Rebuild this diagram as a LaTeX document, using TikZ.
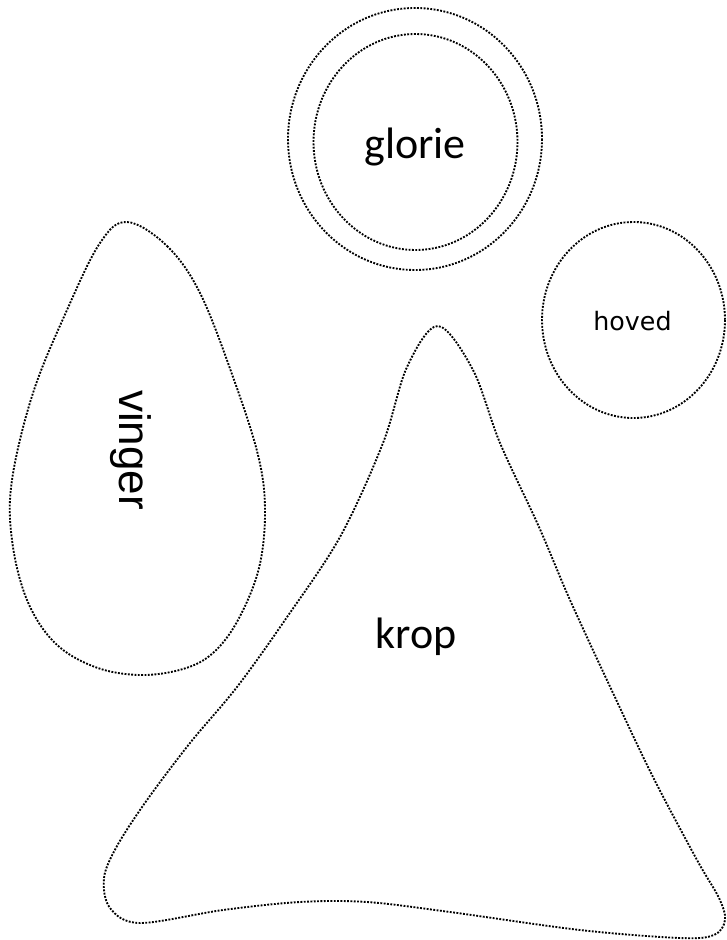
\documentclass[tikz,border=0pt]{standalone}
\usepackage{fontspec}
\newfontfamily\calfont{Carlito}
\newfontfamily\dvfont{DejaVu Sans}
\newfontfamily\arfont{Liberation Sans}
\begin{document}
\begin{tikzpicture}[x=0.75pt,y=-0.75pt,
  dotline/.style={line width=1.4pt, line cap=butt, dash pattern=on 1.4pt off 1.1pt, black},
  lbl/.style={inner sep=0pt, text=black}]
\useasboundingbox (0,0) rectangle (727,940);
% glorie
\draw[dotline] (415,139) ellipse [x radius=127, y radius=131];
\draw[dotline] (415.5,142) ellipse [x radius=102, y radius=108];
\node[lbl, font=\calfont\fontsize{33}{40}\selectfont] (glorie) at (415,147) {glorie};
% hoved
\draw[dotline] (633.5,320) ellipse [x radius=91.5, y radius=98];
\node[lbl, font=\dvfont\fontsize{19}{23}\selectfont] (hoved) at (632.5,321) {hoved};
% vinger
\draw[dotline] plot[smooth cycle, tension=0.6] coordinates {
  (127,222) (167,246) (200,293) (233,377) (258,455) (265,510) (259,568)
  (238,620) (213,653) (183,669) (140,675) (95,667) (55,643) (27,600)
  (12,540) (12,480) (33,393) (67,310) (100,243)};
\node[lbl, rotate=-90, font=\arfont\fontsize{33}{40}\selectfont] (vinger) at (131,450) {vinger};
% krop
\draw[dotline] plot[smooth cycle, tension=0.55] coordinates {
  (438,326) (473,370) (500,443) (539,527) (570,600) (613,693) (653,777)
  (697,860) (719,898) (725,920) (714,935) (680,938) (580,930) (450,912)
  (367,902) (300,902) (223,910) (140,923) (110,908) (104,878) (117,846)
  (147,800) (190,743) (237,687) (285,620) (340,537) (383,443) (407,367)};
\node[lbl, font=\calfont\fontsize{33}{40}\selectfont] (krop) at (416,637) {krop};
\end{tikzpicture}
\end{document}
